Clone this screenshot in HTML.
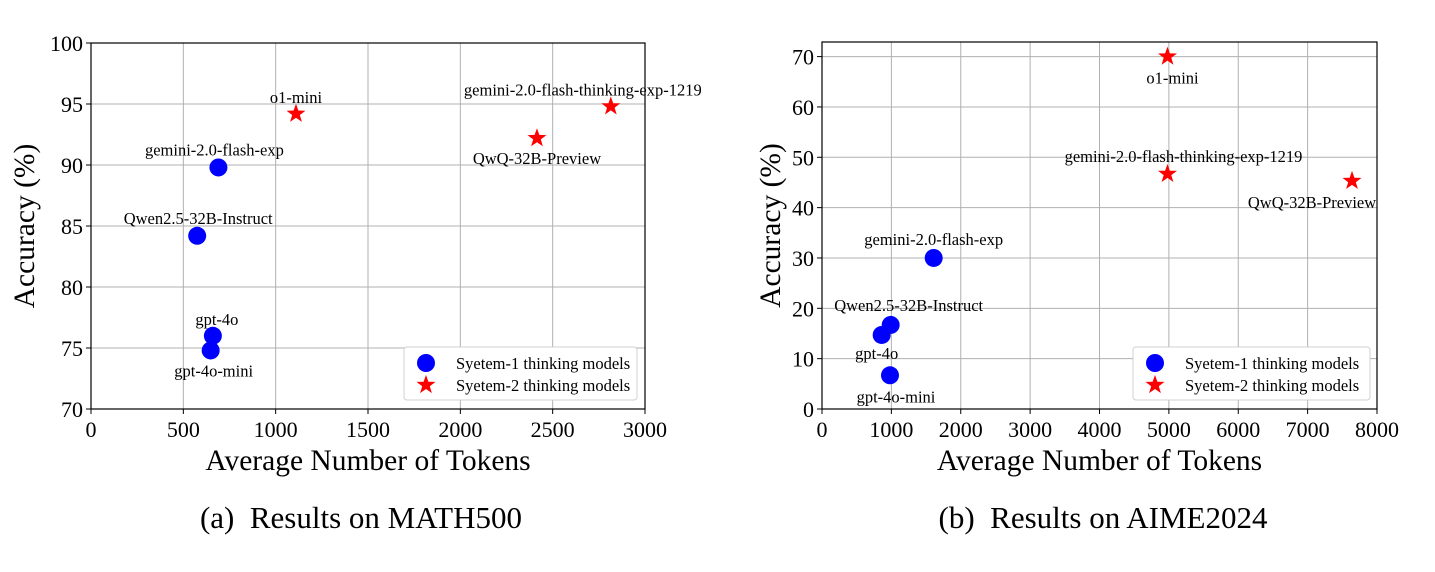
<!DOCTYPE html>
<html><head><meta charset="utf-8"><style>
body{margin:0;background:#fff;}
svg text{font-family:"Liberation Serif",serif;fill:#000;}
</style></head><body>
<svg id="s" width="1435" height="567" xmlns="http://www.w3.org/2000/svg"></svg>
<script>
const NS="http://www.w3.org/2000/svg";
const svg=document.getElementById('s');
// Panel A data (MATH500)
const aNames=["gemini-2.0-flash-exp","Qwen2.5-32B-Instruct","gpt-4o","gpt-4o-mini","o1-mini","QwQ-32B-Preview","gemini-2.0-flash-thinking-exp-1219"];
const aTokens=[690,575,660,648,1110,2415,2815];
const aAcc=[89.8,84.2,76.0,74.8,94.2,92.2,94.8];
const aSys=[1,1,1,1,2,2,2];
const aXTicks=[0,500,1000,1500,2000,2500,3000];
const aYTicks=[70,75,80,85,90,95,100];
// Panel B data (AIME2024)
const bNames=["gemini-2.0-flash-exp","Qwen2.5-32B-Instruct","gpt-4o","gpt-4o-mini","o1-mini","gemini-2.0-flash-thinking-exp-1219","QwQ-32B-Preview"];
const bTokens=[1610,990,860,980,4980,4980,7640];
const bAcc=[30.0,16.7,14.7,6.7,70.0,46.7,45.3];
const bSys=[1,1,1,1,2,2,2];
const bXTicks=[0,1000,2000,3000,4000,5000,6000,7000,8000];
const bYTicks=[0,10,20,30,40,50,60,70];

function el(t,a,p){const e=document.createElementNS(NS,t);for(const k in a)e.setAttribute(k,a[k]);(p||svg).appendChild(e);return e;}
function star(cx,cy,R){let p=[];for(let i=0;i<10;i++){const r=i%2?R*0.4:R;const a=-Math.PI/2+i*Math.PI/5;p.push((cx+r*Math.cos(a)).toFixed(1)+","+(cy+r*Math.sin(a)).toFixed(1));}return p.join(" ");}

function panel(o){
  const g=el('g',{});
  
  
  const X=v=>o.x0+(v-o.xmin)/(o.xmax-o.xmin)*(o.x1-o.x0);
  const Y=v=>o.y0-(v-o.ymin)/(o.ymax-o.ymin)*(o.y0-o.y1);
  o.xt.forEach(v=>{
    const l=el('line',{x1:X(v),x2:X(v),y1:o.y1,y2:o.y0,stroke:'#b0b0b0','stroke-width':1},g);
    
    el('line',{x1:X(v),x2:X(v),y1:o.y0,y2:o.y0+5,stroke:'#000'},g);
    const t=el('text',{x:X(v),y:o.y0+28,'text-anchor':'middle','font-size':22},g);t.textContent=v;
    
  });
  o.yt.forEach(v=>{
    const l=el('line',{x1:o.x0,x2:o.x1,y1:Y(v),y2:Y(v),stroke:'#b0b0b0','stroke-width':1},g);
    
    el('line',{x1:o.x0-5,x2:o.x0,y1:Y(v),y2:Y(v),stroke:'#000'},g);
    const t=el('text',{x:o.x0-8,y:Y(v)+8,'text-anchor':'end','font-size':22},g);t.textContent=v;
    
  });
  const fr=el('rect',{x:o.x0,y:o.y1,width:o.x1-o.x0,height:o.y0-o.y1,fill:'none',stroke:'#000','stroke-width':1.2},g);
  
  o.tok.forEach((v,i)=>{
    const cx=X(v),cy=Y(o.acc[i]);
    let m;
    if(o.sys[i]===1){m=el('circle',{cx:cx,cy:cy,r:9,fill:'#0000ff'},g);}
    else{m=el('polygon',{points:star(cx,cy,10),fill:'#ff0000'},g);}
    
    
    const off=o.off[i];
    const t=el('text',{x:cx+off[0],y:cy+off[1],'text-anchor':'middle','font-size':16.5},g);t.textContent=o.names[i];
    
  });
  const xt=el('text',{x:(o.x0+o.x1)/2,y:o.y0+61,'text-anchor':'middle','font-size':29.5},g);xt.textContent='Average Number of Tokens';
  
  const yx=o.yTitleX, yy=(o.y0+o.y1)/2;
  const yt=el('text',{x:yx,y:yy,'text-anchor':'middle','font-size':29.5,transform:`rotate(-90 ${yx} ${yy})`},g);yt.textContent='Accuracy (%)';
  
  // legend
  const lg=el('g',{},g);
  el('rect',{x:o.lx,y:347,width:o.lw,height:53,rx:3,fill:'#fff',stroke:'#d0d0d0'},lg);
  el('circle',{cx:o.lx+22,cy:363,r:9,fill:'#0000ff'},lg);
  el('polygon',{points:star(o.lx+22,385,10),fill:'#ff0000'},lg);
  const t1=el('text',{x:o.lx+52,y:369,'font-size':16.5},lg);t1.textContent='Syetem-1 thinking models';
  
  const t2=el('text',{x:o.lx+52,y:391,'font-size':16.5},lg);t2.textContent='Syetem-2 thinking models';
  
  const c=el('text',{x:o.capX,y:528,'text-anchor':'middle','font-size':31},g);c.textContent=o.cap;
  
}
panel({id:'panel-a',names:aNames,tok:aTokens,acc:aAcc,sys:aSys,xt:aXTicks,yt:aYTicks,
  x0:91,x1:645,y0:409,y1:43,xmin:0,xmax:3000,ymin:70,ymax:100,lx:404,lw:233,yTitleX:34,capX:361,cap:'(a)\u2002Results on MATH500',
  off:[[-4,-12],[1,-12],[4,-11],[3,26],[0,-11],[0,26],[-28,-11]]});
panel({id:'panel-b',names:bNames,tok:bTokens,acc:bAcc,sys:bSys,xt:bXTicks,yt:bYTicks,
  x0:822,x1:1377,y0:409,y1:42,xmin:0,xmax:8000,ymin:0,ymax:72.9,lx:1133,lw:237,yTitleX:780,capX:1103,cap:'(b)\u2002Results on AIME2024',
  off:[[0,-13],[18,-14],[-5,24],[6,27],[5,27],[16,-12],[-40,27]]});
</script>
</body></html>
